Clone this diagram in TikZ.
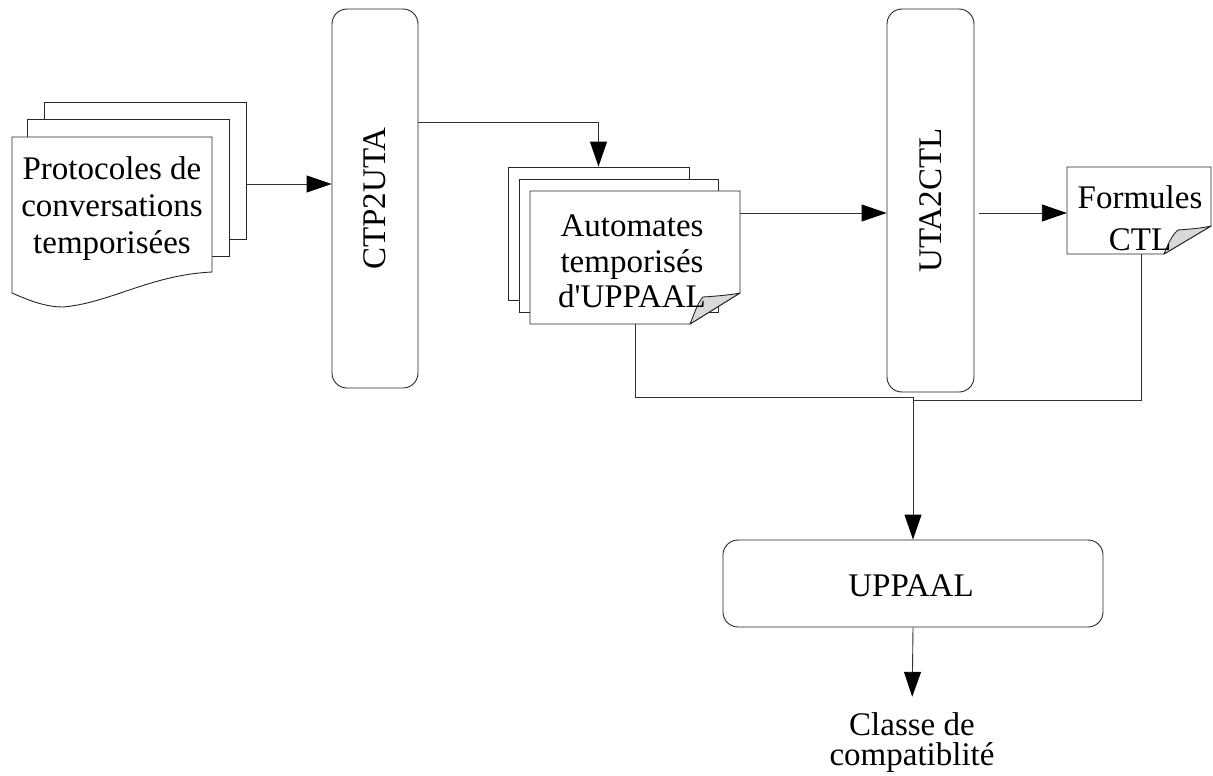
\documentclass[tikz,border=0pt]{standalone}
\usepackage{fontspec}
\setmainfont{Liberation Serif}
\font\aposfont="Liberation Serif" at 33pt
\usetikzlibrary{arrows.meta}
\begin{document}
\begin{tikzpicture}[x=1pt,y=-1pt,
  ln/.style={draw=black!80, line width=0.9pt},
  arr/.style={ln, -{Triangle[length=25pt,width=17pt,color=black,fill=black]}},
  rbox/.style={draw=black!85, line width=0.9pt, rounded corners=15pt, inner sep=0pt,
    font=\fontsize{33}{37}\selectfont},
  sheet/.style={draw=black!85, line width=0.9pt, fill=white, inner sep=0pt},
  ghost/.style={inner sep=0pt},
  txt/.style={font=\fontsize{33}{37}\selectfont, align=center, inner sep=0pt},
  flap/.style={draw=black!85, line width=0.9pt, fill=black!15, line join=round}]
\useasboundingbox (0,0) rectangle (1213,776);

% process boxes
\node[rbox, minimum width=86pt, minimum height=379pt] (ctp) at (375,198.5) {\rotatebox{90}{CTP2UTA}};
\node[rbox, minimum width=87pt, minimum height=383pt] (uta) at (930.5,200.5) {\rotatebox{90}{UTA2CTL}};
\node[rbox, minimum width=380pt, minimum height=87pt] (upp) at (913,583.5) {};
\node[txt] (uppT) at (911,586) {UPPAAL};

% Protocoles multi-document
\node[sheet, minimum width=202pt, minimum height=137pt] (p1) at (145,170.5) {};
\node[sheet, minimum width=202pt, minimum height=137pt] (p2) at (128,187.5) {};
\node[ghost, minimum width=200pt, minimum height=156pt] (pfr) at (112,215) {};
\draw[ln, draw=black!85, fill=white] (12,137) -- (212,137) -- (212,272)
  .. controls (150,275) and (110,303) .. (63,307)
  .. controls (45,307) and (28,300) .. (12,293) -- cycle;
\node[txt] (prot) at (112,209) {Protocoles de\\conversations\\temporisées};

% Automates multi-document
\node[sheet, minimum width=181pt, minimum height=133pt] (a1) at (598.5,233.5) {};
\node[sheet, minimum width=199pt, minimum height=133pt] (a2) at (618.5,245.5) {};
\node[ghost, minimum width=210pt, minimum height=133pt] (afr) at (635,257.5) {};
\draw[ln, draw=black!85, fill=white] (530,191) -- (740,191) -- (740,293) -- (690,324) -- (530,324) -- cycle;
\draw[flap] (690,324) .. controls (695,312) and (698,302) .. (703,297)
  .. controls (718,296) and (730,295) .. (740,293) -- cycle;
\node[txt, font=\fontsize{33}{35.5}\selectfont] (auto) at (632,261.5) {Automates\\temporisés\\d{\aposfont'}UPPAAL};

% Formules CTL document
\node[ghost, minimum width=144pt, minimum height=87pt] (ffr) at (1139,210.5) {};
\draw[ln, draw=black!85, fill=white] (1067,167) -- (1211,167) -- (1211,226) -- (1164,254) -- (1067,254) -- cycle;
\draw[flap] (1164,254) .. controls (1168,244) and (1172,235) .. (1178,230)
  .. controls (1192,229) and (1203,228) .. (1211,226) -- cycle;
\node[txt, font=\fontsize{33}{42}\selectfont] (form) at (1140,218) {Formules\\CTL};

% output label
\node[txt, font=\fontsize{33}{30}\selectfont] (cls) at (912,743) {Classe de\\compatiblité};

% connectors
\draw[arr] (p1.east |- 0,184) -- (ctp.west |- 0,184);
\draw[arr] (ctp.east |- 0,122) -| (a1.north);
\draw[arr] (afr.east |- 0,213) -- (uta.west |- 0,213);
\coordinate (utaout) at (979,213);
\draw[arr] (utaout) -- (ffr.west |- utaout);
\coordinate (j1) at (913,397);
\coordinate (j2) at (913,400);
\draw[ln] (afr.south) |- (j1);
\draw[ln] (1141,254) |- (j2);
\draw[arr] (j1) -- (upp.north);
\draw[arr, shorten >=16pt] (upp.south) -- (cls.north);
\end{tikzpicture}
\end{document}
